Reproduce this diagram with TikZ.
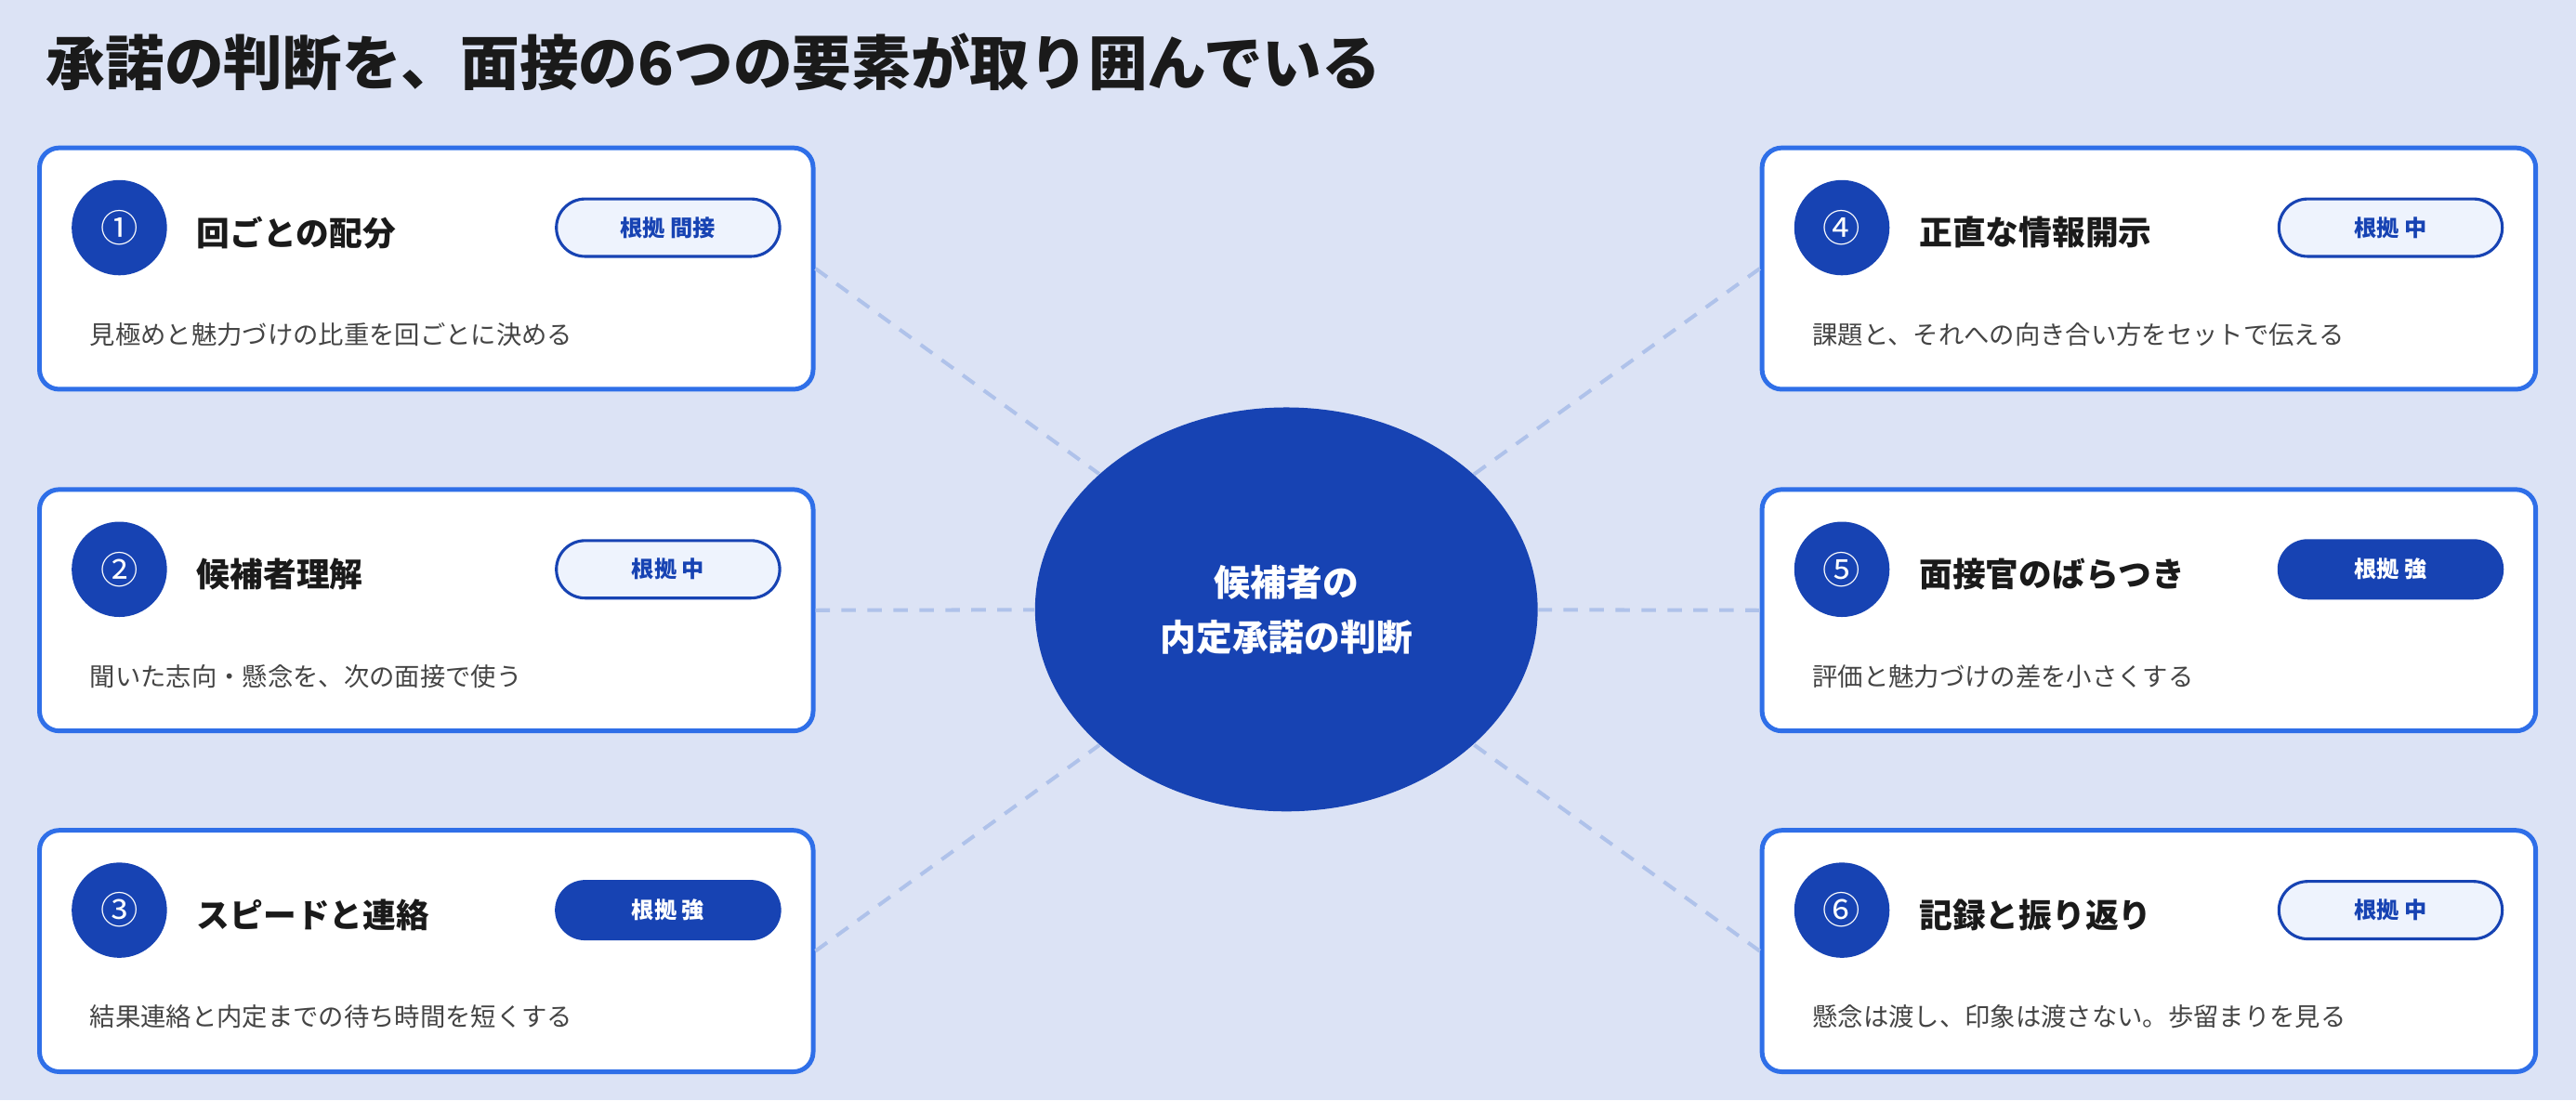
\documentclass[tikz,border=0pt]{standalone}
\usepackage{fontspec}
\setmainfont{Noto Sans CJK JP}
\usetikzlibrary{shapes.geometric}
\definecolor{bg}{HTML}{DCE3F5}
\definecolor{navy}{HTML}{1743B3}
\definecolor{cardb}{HTML}{2F6FE8}
\definecolor{pale}{HTML}{EEF3FD}
\definecolor{dash}{HTML}{AFC2EA}
\definecolor{desc}{HTML}{444444}
\definecolor{ttl}{HTML}{1A1A1A}
\tikzset{
 card/.style={draw=cardb,line width=1.6pt,fill=white,rounded corners=0.24cm,minimum width=9.42cm,minimum height=2.94cm,inner sep=0},
 num/.style={circle,fill=navy,text=white,minimum size=1.16cm,inner sep=0,font=\fontsize{13}{13}\selectfont},
 ctitle/.style={anchor=west,text=ttl,font=\bfseries\fontsize{11.5}{12}\selectfont},
 cdesc/.style={anchor=west,text=desc,font=\fontsize{8.8}{10}\selectfont},
 badgeo/.style={draw=navy,line width=1pt,fill=pale,text=navy,rounded corners=0.35cm,minimum width=2.72cm,minimum height=0.7cm,font=\bfseries\fontsize{7.8}{8}\selectfont},
 badgef/.style={draw=navy,line width=1pt,fill=navy,text=white,rounded corners=0.35cm,minimum width=2.72cm,minimum height=0.7cm,font=\bfseries\fontsize{7.8}{8}\selectfont},
 conn/.style={draw=dash,line width=1.3pt,dash pattern=on 5pt off 4pt},
}
\newcommand{\mycard}[7]{%
 \node[card] (#1) at (#2) {};
 \path (#1.north west) ++(50,50) node[num] (#1n) {#3};
 \path (#1.north west) ++(91,53) node[ctitle] (#1t) {#4};
 \path (#1.north west) ++(384,50) node[#6] (#1b) {#5};
 \path (#1.north west) ++(26,115) node[cdesc] (#1d) {#7};
}
\begin{document}
\begin{tikzpicture}[x=0.02cm,y=-0.02cm]
\fill[bg] (0,0) rectangle (1568,670);
\useasboundingbox (0,0) rectangle (1568,670);
\node[anchor=west,text=ttl,font=\bfseries\fontsize{20.5}{22}\selectfont] (title) at (22,38) {承諾の判断を、面接の6つの要素が取り囲んでいる};
\node[ellipse,fill=navy,minimum width=6.12cm,minimum height=4.92cm,text=white,align=center,font=\bfseries\fontsize{12.5}{19}\selectfont] (e) at (783,371) {候補者の\\内定承諾の判断};
\mycard{c1}{259.5,163.5}{①}{回ごとの配分}{根拠 間接}{badgeo}{見極めと魅力づけの比重を回ごとに決める}
\mycard{c2}{259.5,371.5}{②}{候補者理解}{根拠 中}{badgeo}{聞いた志向・懸念を、次の面接で使う}
\mycard{c3}{259.5,579}{③}{スピードと連絡}{根拠 強}{badgef}{結果連絡と内定までの待ち時間を短くする}
\mycard{c4}{1308,163.5}{④}{正直な情報開示}{根拠 中}{badgeo}{課題と、それへの向き合い方をセットで伝える}
\mycard{c5}{1308,371.5}{⑤}{面接官のばらつき}{根拠 強}{badgef}{評価と魅力づけの差を小さくする}
\mycard{c6}{1308,579}{⑥}{記録と振り返り}{根拠 中}{badgeo}{懸念は渡し、印象は渡さない。歩留まりを見る}
\begin{scope}[on background layer/.style={}]
\end{scope}
\draw[conn] (c1.east) -- (e);
\draw[conn] (c2.east) -- (e);
\draw[conn] (c3.east) -- (e);
\draw[conn] (c4.west) -- (e);
\draw[conn] (c5.west) -- (e);
\draw[conn] (c6.west) -- (e);
\end{tikzpicture}
\end{document}
